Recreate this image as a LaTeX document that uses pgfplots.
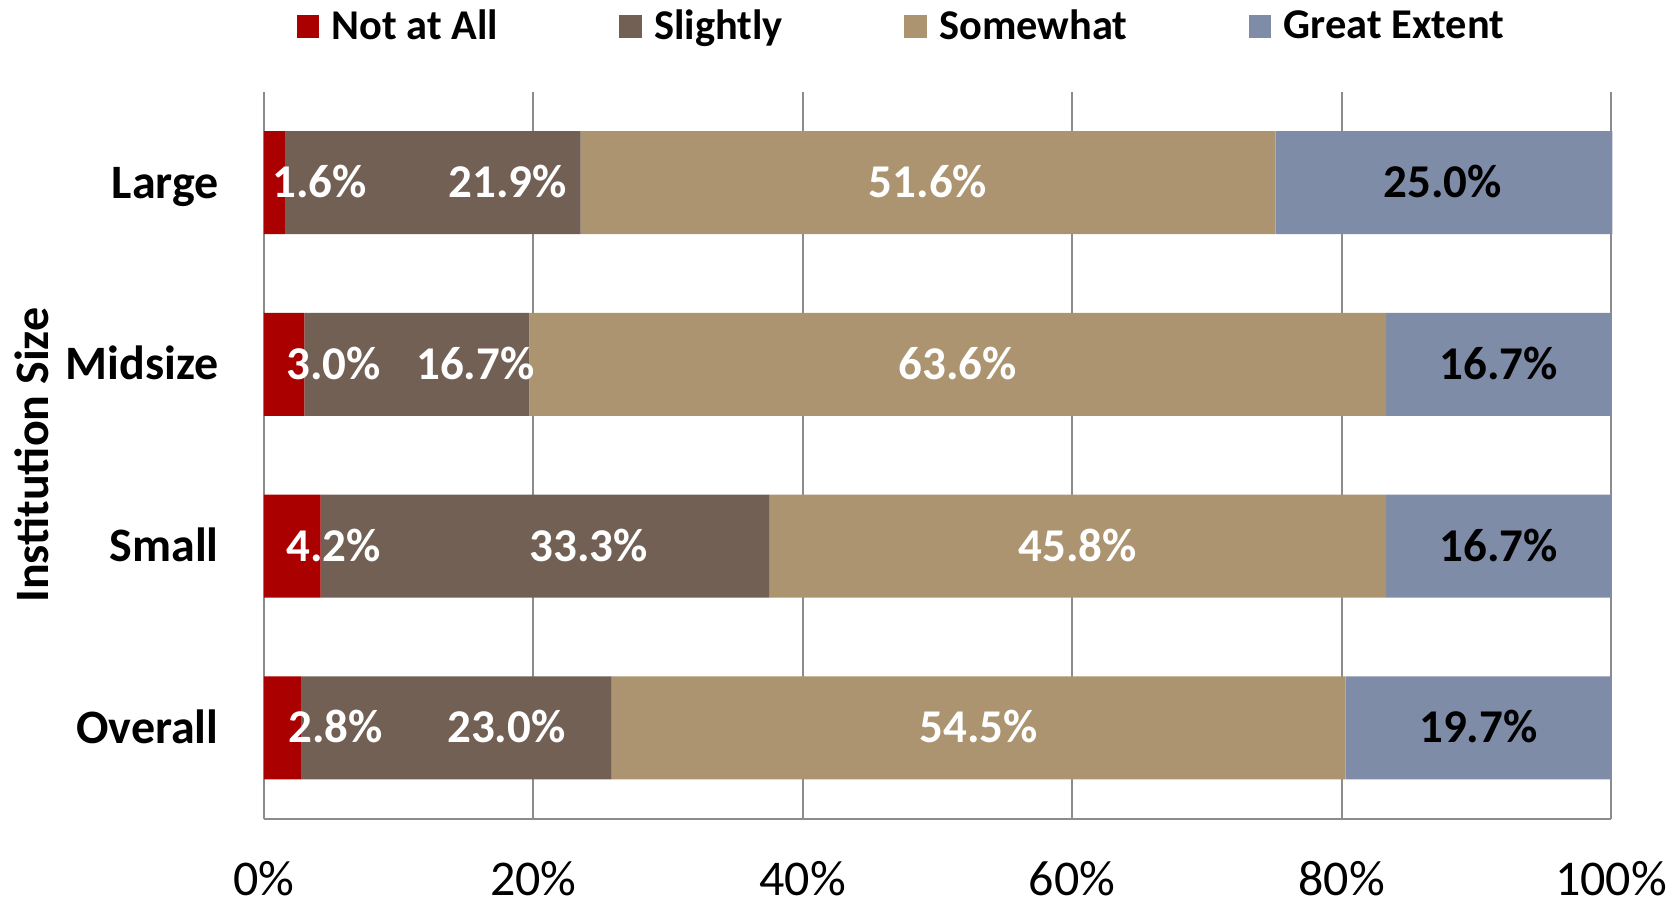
\documentclass[border=0pt]{standalone}
\usepackage{pgfplots}
\pgfplotsset{compat=1.18}
\usepackage{fontspec}
\usepackage{graphicx}
\setmainfont{Carlito}
\usetikzlibrary{calc}
\definecolor{cNot}{RGB}{170,0,0}
\definecolor{cSl}{RGB}{114,96,85}
\definecolor{cSo}{RGB}{171,148,111}
\definecolor{cGr}{RGB}{127,140,168}
\definecolor{gridc}{RGB}{140,140,140}
\newcommand{\lblfont}{\bfseries\fontsize{23.5}{27}\selectfont}
\begin{document}
\begin{tikzpicture}
\begin{axis}[name=ax, scale only axis, width=673.5pt, height=363.5pt,
  xbar stacked, bar width=51.5pt,
  xmin=0, xmax=100, ymin=-0.5, ymax=3.5,
  ytick={0,1,2,3}, yticklabels={Overall,Small,Midsize,Large},
  xtick={0,20,40,60,80,100},
  xticklabels={0\%,20\%,40\%,60\%,80\%,100\%},
  axis x line*=bottom, axis y line*=left,
  x axis line style={draw=gridc, line width=1.2pt, -},
  y axis line style={draw=none},
  major tick length=0pt,
  xmajorgrids, grid style={draw=gridc, line width=1pt},
  xticklabel shift=20pt,
  xticklabel style={font=\fontsize{25}{28}\selectfont, inner sep=1pt},
  yticklabel style={font=\bfseries\fontsize{24}{28}\selectfont, inner sep=1pt, anchor=base east, xshift=-21.5pt, yshift=-7.7pt},
  every axis y label/.style={at={(rel axis cs:0,0.5)}, xshift=-116pt, rotate=90, anchor=center, font=\bfseries\fontsize{24}{28}\selectfont},
  ylabel={Institution Size},
  legend columns=4,
  legend style={draw=none, fill=none, at={(rel axis cs:0.5,1)}, anchor=center, xshift=-17pt, yshift=32.7pt,
    font=\bfseries\fontsize{21.2}{25}\selectfont,
    nodes={inner sep=3pt},
    /tikz/every even column/.append style={column sep=57.7pt}},
  legend image code/.code={\fill[#1] (0pt,-5.6pt) rectangle (11.2pt,5.6pt); \path (14.5pt,0pt);},
  clip=false,
]
\addplot[fill=cNot, draw=none] coordinates {(2.8,0) (4.2,1) (3.0,2) (1.6,3)};
\addlegendentry{Not at All}
\addplot[fill=cSl, draw=none] coordinates {(23.0,0) (33.3,1) (16.7,2) (21.9,3)};
\addlegendentry{Slightly}
\addplot[fill=cSo, draw=none] coordinates {(54.5,0) (45.8,1) (63.6,2) (51.6,3)};
\addlegendentry{Somewhat}
\addplot[fill=cGr, draw=none] coordinates {(19.7,0) (16.7,1) (16.7,2) (25.0,3)};
\addlegendentry{Great Extent}
\end{axis}
% overlay axis for the data labels (label centres, in % of the axis)
\begin{axis}[at={(ax.south west)}, anchor=south west, scale only axis, width=673.5pt, height=363.5pt,
  xmin=0, xmax=100, ymin=-0.5, ymax=3.5, hide axis, clip=false,
  nodes near coords, point meta=explicit symbolic,
  every node near coord/.style={anchor=base, yshift=-7.5pt, font=\lblfont, inner sep=0pt}]
\addplot[only marks, mark=none, every node near coord/.append style={text=white}]
  coordinates {(5.32,0) [2.8\%] (5.16,1) [4.2\%] (5.16,2) [3.0\%] (4.13,3) [1.6\%]};
\addplot[only marks, mark=none, every node near coord/.append style={text=white}]
  coordinates {(18.0,0) [23.0\%] (24.1,1) [33.3\%] (15.7,2) [16.7\%] (18.1,3) [21.9\%]};
\addplot[only marks, mark=none, every node near coord/.append style={text=white}]
  coordinates {(53.05,0) [54.5\%] (60.4,1) [45.8\%] (51.5,2) [63.6\%] (49.3,3) [51.6\%]};
\addplot[only marks, mark=none, every node near coord/.append style={text=black}]
  coordinates {(90.15,0) [19.7\%] (91.65,1) [16.7\%] (91.65,2) [16.7\%] (87.5,3) [25.0\%]};
\end{axis}
\path ($(ax.south west)+(-132pt,-40.5pt)$) rectangle ($(ax.north east)+(32.5pt,45.5pt)$);
\end{tikzpicture}
\end{document}
